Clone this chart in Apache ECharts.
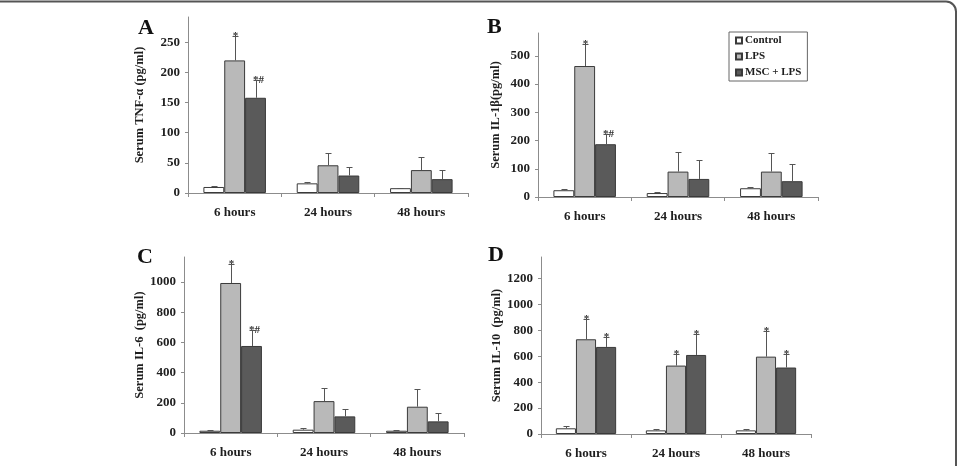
<!DOCTYPE html>
<html>
<head>
<meta charset="utf-8">
<script src="https://cdn.jsdelivr.net/npm/echarts@6/dist/echarts.min.js"></script>
<style>
html,body{margin:0;padding:0;background:#fff;}
#chart{width:957px;height:466px;}
</style>
</head>
<body>
<div id="chart"></div>
<script>
// ---------- data ----------
const categories = ['6 hours', '24 hours', '48 hours'];
const groupNames = ['Control', 'LPS', 'MSC + LPS'];

// Panel A: Serum TNF-α (pg/ml)
const tnfControl = [10, 16, 8];
const tnfControlErr = [1.5, 2, 1];
const tnfLPS = [220, 46, 38];
const tnfLPSErr = [41, 21, 21];
const tnfMSC = [158, 29, 23];
const tnfMSCErr = [30, 14, 15];
const tnfLPSMarks = ['*', '', ''];
const tnfMSCMarks = ['*#', '', ''];
const tnfTicks = [0, 50, 100, 150, 200, 250];

// Panel B: Serum IL-1β (pg/ml)
const il1Control = [24, 14, 31];
const il1ControlErr = [3, 3, 5];
const il1LPS = [464, 90, 90];
const il1LPSErr = [77, 70, 66];
const il1MSC = [187, 64, 56];
const il1MSCErr = [36, 66, 62];
const il1LPSMarks = ['*', '', ''];
const il1MSCMarks = ['*#', '', ''];
const il1Ticks = [0, 100, 200, 300, 400, 500];

// Panel C: Serum IL-6 (pg/ml)
const il6Control = [15, 22, 15];
const il6ControlErr = [3, 9, 7];
const il6LPS = [993, 211, 174];
const il6LPSErr = [123, 86, 114];
const il6MSC = [576, 110, 77];
const il6MSCErr = [105, 50, 57];
const il6LPSMarks = ['*', '', ''];
const il6MSCMarks = ['*#', '', ''];
const il6Ticks = [0, 200, 400, 600, 800, 1000];

// Panel D: Serum IL-10 (pg/ml)
const il10Control = [44, 28, 28];
const il10ControlErr = [20, 8, 8];
const il10LPS = [731, 528, 597];
const il10LPSErr = [154, 93, 198];
const il10MSC = [672, 610, 513];
const il10MSCErr = [77, 162, 102];
const il10LPSMarks = ['*', '*', '*'];
const il10MSCMarks = ['*', '*', '*'];
const il10Ticks = [0, 200, 400, 600, 800, 1000, 1200];

// ---------- styling ----------
const FONT = 'Liberation Serif';
const TXT = '#1e1e1e';
const AXIS = '#8c8c8c';
const GAP = 0.33;
const fills = ['#ffffff', '#b9b9b9', '#5a5a5a'];

const panels = [
  {grid:{left:188, top:17, width:280, height:176}, max:292, ticks:tnfTicks, name:'Serum TNF-α (pg/ml)', gap:42,
   vals:[tnfControl, tnfLPS, tnfMSC], errs:[tnfControlErr, tnfLPSErr, tnfMSCErr], marks:[['','',''], tnfLPSMarks, tnfMSCMarks]},
  {grid:{left:538, top:33, width:280, height:164}, max:581, ticks:il1Ticks, name:'Serum IL-1β(pg/ml)', gap:36,
   vals:[il1Control, il1LPS, il1MSC], errs:[il1ControlErr, il1LPSErr, il1MSCErr], marks:[['','',''], il1LPSMarks, il1MSCMarks]},
  {grid:{left:184, top:257, width:280, height:176}, max:1165, ticks:il6Ticks, name:'Serum IL-6  (pg/ml)', gap:34,
   vals:[il6Control, il6LPS, il6MSC], errs:[il6ControlErr, il6LPSErr, il6MSCErr], marks:[['','',''], il6LPSMarks, il6MSCMarks]},
  {grid:{left:541, top:257, width:270, height:177}, max:1366, ticks:il10Ticks, name:'Serum IL-10  (pg/ml)', gap:37,
   vals:[il10Control, il10LPS, il10MSC], errs:[il10ControlErr, il10LPSErr, il10MSCErr], marks:[['','',''], il10LPSMarks, il10MSCMarks]}
];

const grids = [], xAxes = [], yAxes = [], series = [];

function errSeries(p, pi, gi) {
  const vals = p.vals[gi], errs = p.errs[gi], marks = p.marks[gi];
  return {
    type: 'custom', name: 'err' + pi + '_' + gi, xAxisIndex: pi, yAxisIndex: pi, z: 5,
    silent: true,
    data: vals.map((v, i) => [i, v, errs[i]]),
    renderItem: function (params, api) {
      const i = params.dataIndex;
      const x = api.value(0), v = api.value(1), e = api.value(2);
      const band = api.size([1, 0])[0];
      const bw = band * (1 - GAP) / 3;
      const base = api.coord([x, v]);
      const top = api.coord([x, v + e]);
      const cx = Math.round(base[0] + (gi - 1) * bw) + 0.5;
      const y0 = base[1], y1 = Math.round(top[1]) + 0.5;
      const children = [
        {type:'line', shape:{x1:cx, y1:y1, x2:cx, y2:y0}, style:{stroke:'#555', lineWidth:1}},
        {type:'line', shape:{x1:cx-3, y1:y1, x2:cx+3, y2:y1}, style:{stroke:'#555', lineWidth:1}}
      ];
      if (marks[i]) {
        children.push({type:'text', style:{text:marks[i], x:cx + (marks[i].length > 1 ? 2 : 0), y:y1 + 5,
          align:'center', verticalAlign:'bottom', font:'bold 11px "' + FONT + '"', fill:'#333'}});
      }
      return {type:'group', children: children};
    }
  };
}

panels.forEach((p, pi) => {
  grids.push(p.grid);
  xAxes.push({
    type:'category', gridIndex:pi, data:categories,
    axisLine:{lineStyle:{color:AXIS, width:1}},
    axisTick:{show:true, length:4, lineStyle:{color:AXIS}},
    axisLabel:{margin:13, fontFamily:FONT, fontWeight:'bold', fontSize:13, color:TXT}
  });
  yAxes.push({
    type:'value', gridIndex:pi, min:0, max:p.max,
    name:p.name, nameLocation:'middle', nameGap:p.gap,
    nameTextStyle:{fontFamily:FONT, fontWeight:'bold', fontSize:12.5, color:TXT},
    axisLine:{show:true, lineStyle:{color:AXIS, width:1}},
    axisTick:{show:true, length:3, lineStyle:{color:AXIS}, customValues:p.ticks},
    axisLabel:{margin:8, fontFamily:FONT, fontWeight:'bold', fontSize:13, color:TXT, customValues:p.ticks,
               formatter: v => String(v)},
    splitLine:{show:false}
  });
  groupNames.forEach((g, gi) => {
    series.push({
      type:'bar', name:g, xAxisIndex:pi, yAxisIndex:pi,
      data:p.vals[gi], barGap:'0%', barCategoryGap:(GAP*100)+'%',
      itemStyle:{color:fills[gi], borderColor:'#3a3a3a', borderWidth:1},
      emphasis:{disabled:true}, animation:false
    });
  });
  groupNames.forEach((g, gi) => series.push(errSeries(p, pi, gi)));
});

const letterStyle = {font:'bold 22px "' + FONT + '"', fill:'#111'};
const option = {
  animation:false,
  backgroundColor:'#fff',
  grid:grids, xAxis:xAxes, yAxis:yAxes, series:series,
  legend:{
    data:groupNames.map(n => ({name:n, icon:'rect'})),
    orient:'vertical', left:729, top:32,
    itemWidth:6, itemHeight:6, itemGap:5,
    padding:[3,6,3,6],
    borderColor:'#666', borderWidth:1,
    textStyle:{fontFamily:FONT, fontWeight:'bold', fontSize:11, color:TXT, padding:[0,0,0,-2]}
  },
  graphic:[
    {type:'rect', shape:{x:-30, y:1.5, width:986, height:520, r:10}, style:{fill:'none', stroke:'#555', lineWidth:2}, silent:true},
    {type:'text', left:138, top:17, style:Object.assign({text:'A'}, letterStyle)},
    {type:'text', left:487, top:16, style:Object.assign({text:'B'}, letterStyle)},
    {type:'text', left:137, top:246, style:Object.assign({text:'C'}, letterStyle)},
    {type:'text', left:488, top:244, style:Object.assign({text:'D'}, letterStyle)}
  ]
};

const chart = echarts.init(document.getElementById('chart'), null, {renderer:'canvas'});
chart.setOption(option);
</script>
</body>
</html>
